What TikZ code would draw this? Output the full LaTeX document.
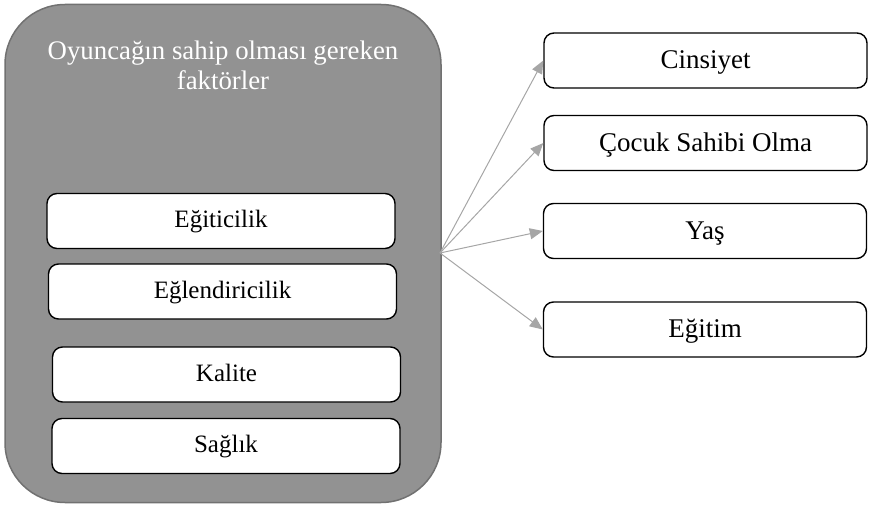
\documentclass[tikz,border=0pt]{standalone}
\usepackage{fontspec}
\setmainfont{Liberation Serif}
\usetikzlibrary{arrows.meta}
\definecolor{bigfill}{HTML}{929292}
\definecolor{bigborder}{HTML}{717171}
\definecolor{arrowgray}{HTML}{A6A6A6}
\begin{document}
\begin{tikzpicture}[x=1pt,y=-1pt,
  bigbox/.style={draw=bigborder, line width=1.5pt, fill=bigfill, rounded corners=60pt, inner sep=0pt},
  titletext/.style={text=white, font=\fontsize{26.8}{30}\selectfont, inner sep=0pt, anchor=base},
  leftbox/.style={draw=black, line width=1.4pt, fill=white, rounded corners=10pt, inner sep=0pt,
    minimum width=348pt, minimum height=55pt, font=\fontsize{25}{30}\selectfont,
    text height=17pt, text depth=3.6pt},
  rightbox/.style={draw=black, line width=1.4pt, fill=white, rounded corners=10pt, inner sep=0pt,
    minimum width=323pt, minimum height=55pt, font=\fontsize{27}{30}\selectfont,
    text height=19pt, text depth=3pt},
  conn/.style={draw=arrowgray, line width=1pt, -{Triangle[length=13pt,width=11pt]}, arrowgray}
]
\useasboundingbox (0,0) rectangle (870,508);
\node[bigbox, minimum width=436pt, minimum height=498pt] (main) at (223,253.5) {};
\node[titletext] (title1) at (223,60) {Oyuncağın sahip olması gereken};
\node[titletext] (title2) at (223,90) {faktörler};

\node[leftbox] (egit) at (221,221) {Eğiticilik};
\node[leftbox] (eglen) at (222.5,291.5) {Eğlendiricilik};
\node[leftbox] (kal) at (226.5,374.5) {Kalite};
\node[leftbox] (sag) at (226,446) {Sağlık};

\node[rightbox] (cins) at (705.5,60.5) {Cinsiyet};
\node[rightbox] (cocuk) at (705.5,143) {Çocuk Sahibi Olma};
\node[rightbox] (yas) at (705,231) {Yaş};
\node[rightbox] (egitim) at (705,329.5) {Eğitim};

\coordinate (hub) at (440,253);
\draw[conn] (hub) -- (cins.west);
\draw[conn] (hub) -- (cocuk.west);
\draw[conn] (hub) -- (yas.west);
\draw[conn] (hub) -- (egitim.west);
\end{tikzpicture}
\end{document}
